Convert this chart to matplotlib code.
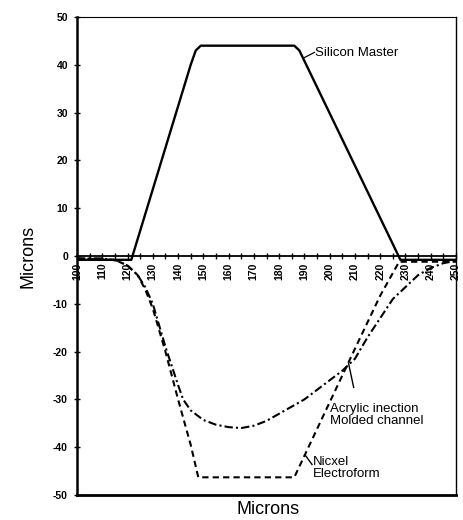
import numpy as np
import matplotlib
matplotlib.use("Agg")
import matplotlib.pyplot as plt

plt.rcParams['font.family'] = ['Liberation Sans', 'DejaVu Sans']

# profile data (x and y in microns)
silicon_x = [100, 121.5, 145, 147, 149, 186, 188, 228, 250]
silicon_y = [-0.8, -0.8, 40, 43, 44, 44, 43, -0.8, -0.8]

nickel_x = [100, 115, 120, 124, 127, 130, 135, 140, 145, 148, 186, 190, 200, 210, 220, 227.5, 235, 250]
nickel_y = [-0.5, -0.8, -2, -4, -7, -11, -20, -30, -39.5, -46.3, -46.3, -41.8, -30.6, -19.4, -8.3, -1.2, -1.2, -1.2]

acrylic_x = [100, 110, 116, 120, 124, 127, 130, 135, 140, 142, 145, 150, 155, 160, 165, 170, 175, 180,
             185, 190, 195, 200, 205, 210, 215, 220, 225, 230, 235, 240, 245, 250]
acrylic_y = [-0.5, -0.5, -1, -2, -4, -6.5, -10, -19, -27, -30, -32.3, -34.3, -35.3, -35.8, -36, -35.5, -34.5, -33,
             -31.5, -30, -28, -26, -24, -21.5, -17, -13, -9, -6.5, -4, -2.5, -1.5, -1]

xticks = np.arange(100, 251, 10)
yticks = np.arange(-50, 51, 10)

fig = plt.figure(figsize=(4.63, 5.2), dpi=100)
ax = fig.add_axes([77/463, 25/520, 379/463, 478/520])

ax.plot(silicon_x, silicon_y, color='black', lw=1.7)
ax.plot(nickel_x, nickel_y, color='black', lw=1.5, ls=(0, (3, 2)))
ax.plot(acrylic_x, acrylic_y, color='black', lw=1.5, ls=(0, (4, 1.5, 1, 1.5)))

ax.set_xlim(100, 250)
ax.set_ylim(-50, 50)

# x axis runs through zero, frame kept around
ax.spines['bottom'].set_position(('data', 0))
ax.spines['bottom'].set_linewidth(1.3)
ax.spines['left'].set_linewidth(1.8)
ax.spines['top'].set_linewidth(0.8)
ax.spines['right'].set_linewidth(1.0)
ax.axhline(-50, color='black', lw=2, clip_on=False)

ax.set_xticks(xticks)
ax.set_xticks(np.arange(105, 250, 10), minor=True)
ax.set_xticklabels([str(t) for t in xticks], rotation=90, fontsize=7.5, fontweight='bold')
ax.set_yticks(yticks)
ax.set_yticklabels([str(t) for t in yticks], fontsize=7.5, fontweight='bold')
ax.tick_params(axis='x', which='both', direction='inout', length=5, width=1, pad=2)
ax.tick_params(axis='y', direction='inout', length=5, width=1, pad=4)

ax.set_ylabel('Microns', fontsize=13, labelpad=12)
fig.text(268/463, 1 - 510/520, 'Microns', fontsize=13, ha='center', va='center')

# curve labels with short leader lines
ax.plot([189.6, 194.0], [41.4, 42.6], color='black', lw=0.9)
ax.text(194.3, 42.5, 'Silicon Master', fontsize=9.5, va='center', ha='left')

ax.plot([207.5, 209.5], [-22.5, -27.5], color='black', lw=1)
ax.text(200.3, -33.2, 'Acrylic inection\nMolded channel', fontsize=9.5, va='center', ha='left',
        linespacing=1.0)

ax.plot([190.5, 193.0], [-41.8, -43.6], color='black', lw=1)
ax.text(193.3, -44.3, 'Nicxel\nElectroform', fontsize=9.5, va='center', ha='left', linespacing=1.0)

fig.savefig('out.png', dpi=100)
